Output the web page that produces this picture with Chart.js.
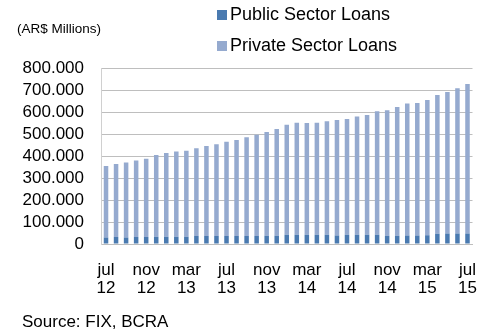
<!DOCTYPE html>
<html>
<head>
<meta charset="utf-8">
<script src="https://cdn.jsdelivr.net/npm/chart.js@4"></script>
<style>
  html, body { margin: 0; padding: 0; background: #fff; }
  #wrap { position: relative; width: 495px; height: 331px; font-family: "Liberation Sans", Arial, sans-serif; color: #000; }
  #grafico { position: absolute; left: 0; top: 0; }
  .txt { position: absolute; white-space: nowrap; }
  .sq { display: inline-block; width: 10px; height: 10px; margin-right: 3px; vertical-align: 0px; }
</style>
</head>
<body>
<div id="wrap">
  <canvas id="grafico" width="495" height="331"></canvas>
  <div class="txt" style="left:17px; top:21px; font-size:13.5px;">(AR$ Millions)</div>
  <div class="txt" style="left:217px; top:4px; font-size:18px;"><span class="sq" style="background:#4A7AB0"></span>Public Sector Loans</div>
  <div class="txt" style="left:217px; top:35px; font-size:18px;"><span class="sq" style="background:#95AACF"></span>Private Sector Loans</div>
  <div class="txt" style="left:22px; top:312px; font-size:17px;">Source: FIX, BCRA</div>
</div>
<script>
// meses jul 12 .. jul 15
const meses = ["ene","feb","mar","abr","may","jun","jul","ago","sep","oct","nov","dic"];
const etiquetas = [];
for (let i = 0; i < 37; i++) {
  const m = (6 + i) % 12;
  const a = 12 + Math.floor((6 + i) / 12);
  etiquetas.push([meses[m], String(a)]);
}

// valores (AR$ millones)
const publico = [
  29000, 32000, 29000, 32000, 32000, 33000, 33000, 33000, 33000, 36000,
  36000, 36000, 36000, 36000, 36000, 36000, 37000, 37000, 42000, 42000,
  42000, 42000, 42000, 39000, 42000, 42000, 42000, 42000, 38000, 38000,
  39000, 39000, 40000, 47000, 48000, 48000, 48000
];
const total = [
  355000, 364000, 370000, 379000, 388000, 405000, 414000, 421000, 424000, 435000,
  445000, 453000, 465000, 473000, 485000, 497000, 509000, 523000, 542000, 551000,
  550000, 551000, 558000, 564000, 568000, 579000, 586000, 603000, 608000, 623000,
  639000, 641000, 655000, 677000, 691000, 708000, 727000
];
const privado = total.map((t, i) => t - publico[i]);

const fuente = { family: "'Liberation Sans', Arial, sans-serif", size: 17 };

new Chart(document.getElementById("grafico"), {
  type: "bar",
  data: {
    labels: etiquetas,
    datasets: [
      {
        label: "Public Sector Loans",
        data: publico,
        backgroundColor: "#4A7AB0",
        categoryPercentage: 1,
        barPercentage: 0.45,
      },
      {
        label: "Private Sector Loans",
        data: privado,
        backgroundColor: "#95AACF",
        categoryPercentage: 1,
        barPercentage: 0.45,
      },
    ],
  },
  options: {
    responsive: false,
    animation: false,
    layout: { padding: { top: 68, right: 4, left: 0, bottom: 0 } },
    plugins: {
      legend: { display: false },
      tooltip: { enabled: false },
    },
    scales: {
      x: {
        stacked: true,
        grid: { display: false, drawTicks: false },
        border: { color: "#BEBEBE" },
        afterFit: (a) => { a.height = 87; },
        ticks: {
          autoSkip: false,
          maxRotation: 0,
          padding: 18,
          color: "#000",
          font: { family: fuente.family, size: 17, lineHeight: 1.02 },
          callback: function (v, i) {
            return i % 4 === 0 ? etiquetas[i] : null;
          },
        },
      },
      y: {
        stacked: true,
        min: 0,
        max: 800000,
        grid: { color: "#BEBEBE", drawTicks: false },
        border: { color: "#D0D0D0" },
        afterFit: (a) => { a.width = 101; },
        ticks: {
          autoSkip: false,
          stepSize: 100000,
          padding: 17,
          color: "#000",
          font: fuente,
          callback: (v) => v === 0 ? "0" : v.toLocaleString("de-DE"),
        },
      },
    },
  },
});
</script>
</body>
</html>
